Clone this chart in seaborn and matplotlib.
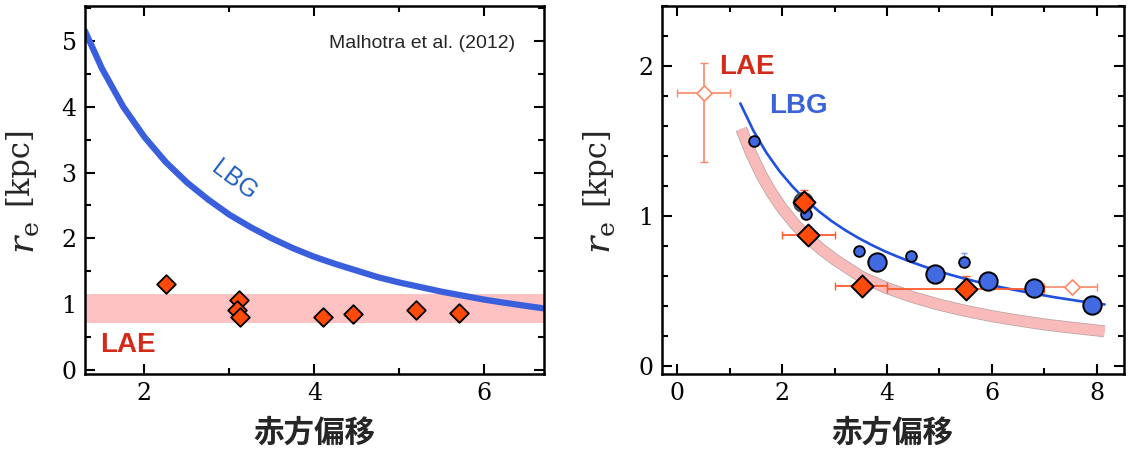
import seaborn as sns
import matplotlib.pyplot as plt
import matplotlib.patheffects as pe
from matplotlib.ticker import MultipleLocator

# ---- left panel (Malhotra et al. 2012) ----
lbg_z_left = [1.3, 1.5, 1.75, 2.0, 2.25, 2.5, 2.75, 3.0, 3.25, 3.5, 3.75, 4.0, 4.25, 4.5, 4.75,
              5.0, 5.25, 5.5, 5.75, 6.0, 6.25, 6.5, 6.7]
lbg_re_left = [5.15, 4.58, 4.00, 3.54, 3.16, 2.85, 2.59, 2.36, 2.17, 2.00, 1.85, 1.72, 1.61, 1.51,
               1.41, 1.33, 1.26, 1.19, 1.13, 1.07, 1.02, 0.973, 0.937]
lae_z_left = [2.25, 3.11, 3.09, 3.13, 4.10, 4.45, 5.20, 5.70]
lae_re_left = [1.30, 1.06, 0.91, 0.81, 0.81, 0.85, 0.91, 0.87]
lae_band_left = (0.72, 1.16)

# ---- right panel ----
lbg_z_right = [1.2, 1.45, 1.7, 1.95, 2.2, 2.45, 2.7, 2.95, 3.2, 3.45, 3.7, 3.95, 4.2, 4.45, 4.7,
               4.95, 5.2, 5.45, 5.7, 6.2, 6.7, 7.2, 7.7, 8.15]
lbg_re_right = [1.75, 1.568, 1.420, 1.297, 1.194, 1.106, 1.030, 0.963, 0.905, 0.853, 0.807, 0.765,
                0.728, 0.694, 0.663, 0.634, 0.608, 0.584, 0.562, 0.522, 0.488, 0.457, 0.430, 0.409]
lae_z_band = [1.22, 1.4, 1.6, 1.8, 2.0, 2.25, 2.5, 2.75, 3.0, 3.5, 4.0, 4.5, 5.0, 5.5, 6.0, 6.5,
              7.0, 7.5, 8.15]
lae_re_band = [1.58, 1.421, 1.274, 1.152, 1.049, 0.941, 0.851, 0.775, 0.709, 0.595, 0.518, 0.457,
               0.407, 0.366, 0.331, 0.302, 0.276, 0.255, 0.230]

lbg_small_z = [1.455, 2.45, 3.47, 4.46, 5.46]
lbg_small_re = [1.50, 1.01, 0.767, 0.735, 0.689]
lbg_large_z = [3.80, 4.91, 5.92, 6.81, 7.92]
lbg_large_re = [0.689, 0.613, 0.567, 0.518, 0.407]
lbg_faint_z = [2.40]
lbg_faint_re = [1.09]

lae_z = [2.41, 2.50, 3.52, 5.50]
lae_re = [1.09, 0.875, 0.535, 0.51]
lae_zerr = [[0.0, 0.5, 0.52, 1.5], [0.0, 0.5, 0.48, 1.5]]
lae_reerr = [[0.0, 0.0, 0.0, 0.0], [0.08, 0.0, 0.0, 0.09]]

lae_open_z = [0.50, 7.53]
lae_open_re = [1.82, 0.525]
lae_open_zerr = [[0.5, 0.53], [0.5, 0.47]]
lae_open_reerr = [[0.46, 0.0], [0.20, 0.0]]

sns.set_theme(style='ticks')
plt.rcParams['font.family'] = ['DejaVu Serif']
plt.rcParams['mathtext.fontset'] = 'dejavuserif'

fig = plt.figure(figsize=(11.3, 4.51), dpi=100)
ax1 = fig.add_axes([0.0752, 0.1707, 0.406, 0.816])
ax2 = fig.add_axes([0.5856, 0.1707, 0.409, 0.816])

cjk = ['Noto Sans CJK JP', 'DejaVu Sans']
sans = ['Liberation Sans', 'DejaVu Sans']

# left
ax1.axhspan(*lae_band_left, color='#ffc2c2', lw=0, zorder=1)
sns.lineplot(x=lbg_z_left, y=lbg_re_left, ax=ax1, color='#3a5fdc', lw=4.5, zorder=2)
sns.scatterplot(x=lae_z_left, y=lae_re_left, ax=ax1, marker='D', s=90, color='#ff4a0a',
                edgecolor='black', linewidth=1.3, zorder=3)
ax1.text(5.27, 4.96, 'Malhotra et al. (2012)', ha='center', va='center', fontsize=14,
         family=sans)
ax1.text(3.06, 2.88, 'LBG', ha='center', va='center', fontsize=18, color='#1f5fc0',
         rotation=-37, family=sans)
ax1.text(1.81, 0.38, 'LAE', ha='center', va='center', fontsize=20, color='#d42a1a',
         fontweight='bold', family=sans)
ax1.set_xlim(1.3, 6.7)
ax1.set_ylim(-0.06, 5.53)
ax1.xaxis.set_major_locator(MultipleLocator(2))
ax1.xaxis.set_minor_locator(MultipleLocator(1))
ax1.yaxis.set_major_locator(MultipleLocator(1))
ax1.yaxis.set_minor_locator(MultipleLocator(0.5))

# right
sns.lineplot(x=lae_z_band, y=lae_re_band, ax=ax2, color='#f9baba', lw=7.5, zorder=1,
             solid_capstyle='butt',
             path_effects=[pe.Stroke(linewidth=8.6, foreground='#b8a4a4', capstyle='butt'),
                           pe.Normal()])
sns.lineplot(x=lbg_z_right, y=lbg_re_right, ax=ax2, color='#2050e0', lw=1.9, zorder=2)
ax2.errorbar(5.46, 0.689, yerr=[[0.0], [0.06]], fmt='none', ecolor='#7b96e8', elinewidth=1,
             capsize=2.5, zorder=2)
sns.scatterplot(x=lbg_small_z, y=lbg_small_re, ax=ax2, s=60, color='#4169e1',
                edgecolor='black', linewidth=1.3, zorder=3)
sns.scatterplot(x=lbg_large_z, y=lbg_large_re, ax=ax2, s=175, color='#4169e1',
                edgecolor='black', linewidth=1.4, zorder=3)
sns.scatterplot(x=lbg_faint_z, y=lbg_faint_re, ax=ax2, s=190, color='#5f7fd8',
                edgecolor='#444444', linewidth=1.4, zorder=3)
ax2.errorbar(lae_open_z, lae_open_re, xerr=lae_open_zerr, yerr=lae_open_reerr, fmt='none',
             ecolor='#ff8866', elinewidth=1.2, capsize=3, zorder=2)
sns.scatterplot(x=lae_open_z, y=lae_open_re, ax=ax2, marker='D', s=60, color='white',
                edgecolor='#ff8866', linewidth=1.2, zorder=3)
ax2.errorbar(lae_z, lae_re, xerr=lae_zerr, yerr=lae_reerr, fmt='none', ecolor='#ff5a2a',
             elinewidth=1.3, capsize=3, zorder=2)
sns.scatterplot(x=lae_z, y=lae_re, ax=ax2, marker='D', s=125, color='#ff4a0a',
                edgecolor='black', linewidth=1.4, zorder=4)
ax2.text(1.32, 1.99, 'LAE', ha='center', va='center', fontsize=20, color='#d42a1a',
         fontweight='bold', family=sans)
ax2.text(2.30, 1.73, 'LBG', ha='center', va='center', fontsize=20, color='#3a63d8',
         fontweight='bold', family=sans)
ax2.set_xlim(-0.3, 8.52)
ax2.set_ylim(-0.055, 2.4)
ax2.xaxis.set_major_locator(MultipleLocator(2))
ax2.xaxis.set_minor_locator(MultipleLocator(1))
ax2.yaxis.set_major_locator(MultipleLocator(1))
ax2.yaxis.set_minor_locator(MultipleLocator(0.2))

for ax in (ax1, ax2):
    for s in ax.spines.values():
        s.set_linewidth(1.8)
        s.set_color('black')
    ax.tick_params(which='both', direction='in', top=True, right=True, width=1.5,
                   colors='black', labelsize=17, pad=6)
    ax.tick_params(which='major', length=7)
    ax.tick_params(which='minor', length=4)
    ax.set_xlabel('赤方偏移', fontsize=22, fontweight='bold', family=cjk)
    ax.xaxis.set_label_coords(0.5, -0.16)
    ax.xaxis.label.set_va('center')
    # y label split in two so the symbol can be larger than the unit
    ax.text(-0.143, 0.565, '[kpc]', rotation=90, fontsize=22, ha='center', va='center',
            transform=ax.transAxes)
    ax.text(-0.133, 0.37, r'$r_{\rm e}$', rotation=90, fontsize=26, ha='center',
            va='center', transform=ax.transAxes)

fig.savefig('out.png', dpi=100, facecolor='white')
